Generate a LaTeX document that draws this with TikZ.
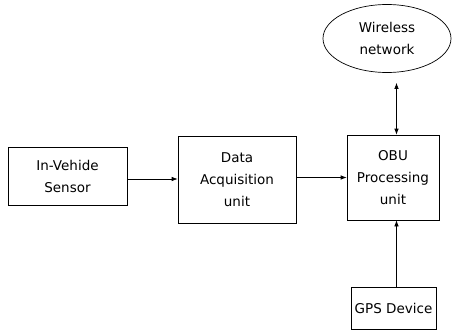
\documentclass[tikz,border=0pt]{standalone}
\usepackage{fontspec}
\setmainfont{DejaVu Sans}
\usetikzlibrary{shapes.geometric,arrows.meta}
\begin{document}
\begin{tikzpicture}[x=1pt, y=-1pt, line width=0.7pt,
  box/.style = {draw, rectangle, align=center, inner sep=0pt, font=\fontsize{13.5}{22}\selectfont},
  cloud/.style = {draw, ellipse, align=center, inner sep=0pt, minimum width=128pt, minimum height=68pt, font=\fontsize{13.5}{22}\selectfont},
  arr/.style = {-{Latex[length=6pt,width=4.5pt]}}]
\useasboundingbox[fill=white] (0,0) rectangle (452,334);
\node[box, minimum width=119pt, minimum height=58pt] (sensor) at (67.5,176) {In-Vehide\\Sensor};
\node[box, minimum width=118pt, minimum height=87pt] (daq) at (237,179.5) {Data\\Acquisition\\unit};
\node[box, minimum width=92pt, minimum height=85pt] (obu) at (393,177.5) {OBU\\Processing\\unit};
\node[box, minimum width=85pt, minimum height=42pt] (gps) at (393.5,308) {GPS Device};
\node[cloud] (net) at (387,38.5) {Wireless\\network};
% connectors
\coordinate (s) at ([yshift=-3pt]sensor.east);
\coordinate (d) at ([yshift=2pt]daq.east);
\coordinate (o) at ([xshift=3.5pt]obu.north);
\coordinate (w) at ([yshift=-10pt]net.south);
\draw[arr] (s) -- (daq.west |- s);
\draw[arr] (d) -- (obu.west |- d);
\draw[arr] (gps.north -| o) -- (obu.south -| o);
\draw[{Latex[length=6pt,width=4.5pt]}-{Latex[length=6pt,width=4.5pt]}] (o) -- (o |- w);
\end{tikzpicture}
\end{document}
